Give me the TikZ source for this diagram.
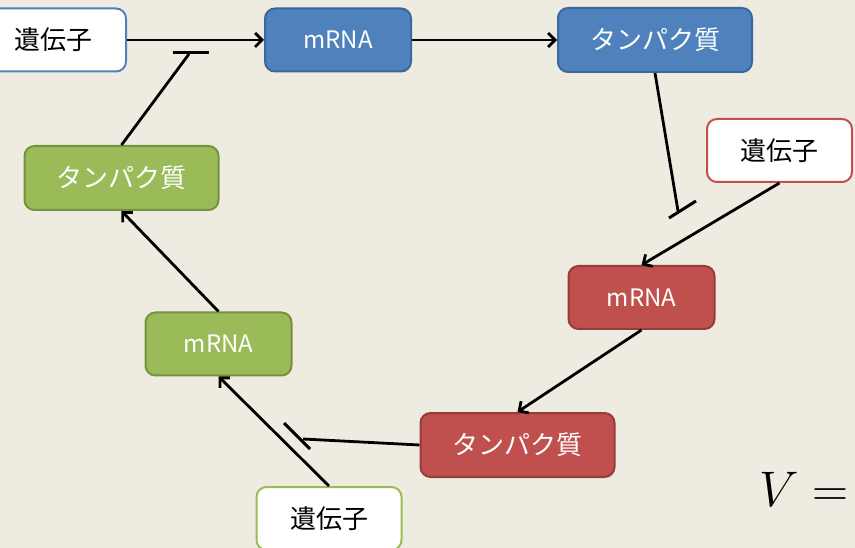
\RequirePackage{fix-cm}
\documentclass[tikz,border=0pt]{standalone}
\usepackage{fontspec}
\newfontfamily\jp{Noto Sans CJK JP}
\usetikzlibrary{arrows.meta}
\definecolor{bg}{HTML}{EEECE1}
\definecolor{blueF}{HTML}{4F81BD}
\definecolor{blueD}{HTML}{3A679C}
\definecolor{redF}{HTML}{C0504D}
\definecolor{redD}{HTML}{943D3A}
\definecolor{greenF}{HTML}{9BBB59}
\definecolor{greenD}{HTML}{76913F}
\tikzset{
  box/.style={rectangle, rounded corners=10pt, line width=2pt, inner sep=0pt,
    font=\jp\fontsize{26}{30}\selectfont},
  genebox/.style={box, fill=white, text=black, minimum width=145pt, minimum height=63pt},
  mrnabox/.style={box, text=white, minimum width=146pt, minimum height=63pt, font=\jp\fontsize{24}{28}\selectfont},
  protbox/.style={box, text=white, minimum width=194pt, minimum height=64pt},
  conn/.style={line width=2.8pt, black},
  act/.style={conn, -{Straight Barb[length=7pt,width=14pt]}},
  inhbar/.style={line width=3pt, black},
}
\begin{document}
\begin{tikzpicture}[x=1pt,y=-1pt]
\useasboundingbox (0,0) rectangle (855,548);
\fill[bg] (0,0) rectangle (855,548);

% nodes
\node[genebox, draw=blueF] (g1) at (53.5,40) {遺伝子};
\node[mrnabox, fill=blueF, draw=blueD] (m1) at (338,40) {mRNA};
\node[protbox, fill=blueF, draw=blueD] (p1) at (655,40) {タンパク質};

\node[genebox, draw=redF] (g2) at (779.5,150.5) {遺伝子};
\node[mrnabox, fill=redF, draw=redD] (m2) at (641.5,297.5) {mRNA};
\node[protbox, fill=redF, draw=redD] (p2) at (517.5,445) {タンパク質};

\node[genebox, draw=greenF] (g3) at (329,518.5) {遺伝子};
\node[mrnabox, fill=greenF, draw=greenD] (m3) at (218.5,344) {mRNA};
\node[protbox, fill=greenF, draw=greenD] (p3) at (121.5,178) {タンパク質};

\node[anchor=west, inner sep=0pt, font=\fontsize{50}{60}\selectfont] (v) at (759,489) {$V =$};

% coordinates for inhibition ends
\coordinate (i1) at (678,211);
\coordinate (i1a) at (669,218);
\coordinate (i1b) at (696,201);
\coordinate (i2) at (303,439);
\coordinate (i2a) at (284,423);
\coordinate (i2b) at (310,449);
\coordinate (i3) at (189,54);
\coordinate (i3a) at (173,53);
\coordinate (i3b) at (209,53);

% activation arrows
\draw[act] (g1.east) -- (m1.west);
\draw[act] (m1.east) -- (p1.west);
\draw[act] (g2.south) -- (m2.north);
\draw[act] (m2.south) -- (p2.north);
\draw[act] (g3.north) -- (m3.south);
\draw[act] (m3.north) -- (p3.south);

% inhibitions
\draw[conn] (p1.south) -- (i1);
\draw[inhbar] (i1a) -- (i1b);
\draw[conn] (p2.west) -- (i2);
\draw[inhbar] (i2a) -- (i2b);
\draw[conn] (p3.north) -- (i3);
\draw[inhbar] (i3a) -- (i3b);
\end{tikzpicture}
\end{document}
